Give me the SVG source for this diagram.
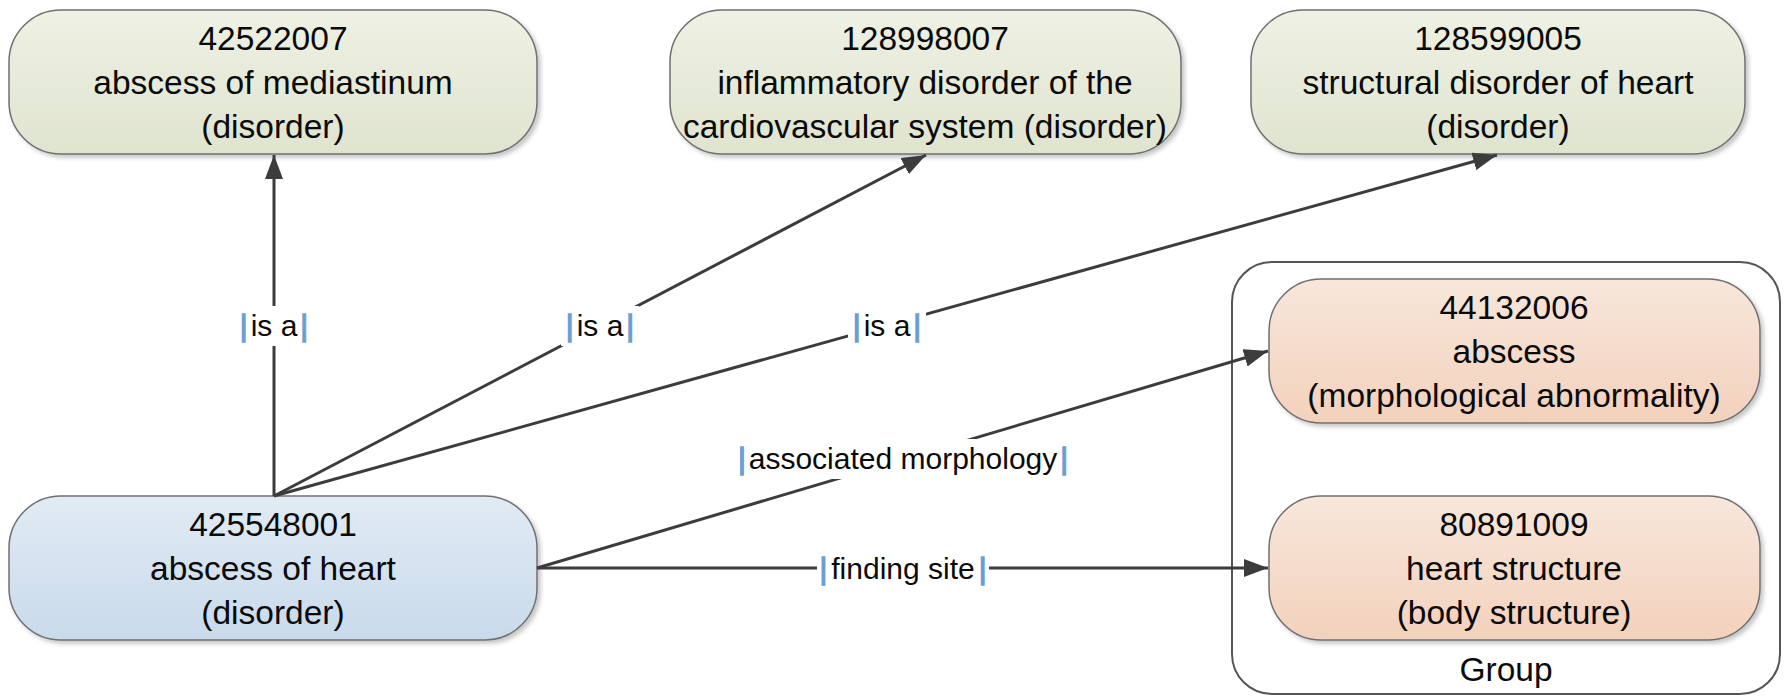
<svg xmlns="http://www.w3.org/2000/svg" width="1788" height="698" viewBox="0 0 1788 698">
<style>
  .node { stroke: #707070; stroke-width: 1.5; }
  .t { font-family: "Liberation Sans", Arial, sans-serif; font-size: 33.5px; fill: #0a0a0a; text-anchor: middle; }
  .lbl { font-family: "Liberation Sans", Arial, sans-serif; font-size: 30px; fill: #0a0a0a; text-anchor: middle; }
  .bar { fill: #6b9fd3; stroke: #6b9fd3; stroke-width: 1.4; }
  .conn { stroke: #3c3c3c; stroke-width: 3; fill: none; marker-end: url(#arrow); }
  .lblbg { fill: #ffffff; }
</style>
<defs>
  <linearGradient id="gGreen" x1="0" y1="0" x2="0" y2="1">
    <stop offset="0" stop-color="#eff1e4"/>
    <stop offset="1" stop-color="#dfe4cf"/>
  </linearGradient>
  <linearGradient id="gBlue" x1="0" y1="0" x2="0" y2="1">
    <stop offset="0" stop-color="#e1ebf4"/>
    <stop offset="1" stop-color="#c9daeb"/>
  </linearGradient>
  <linearGradient id="gOrange" x1="0" y1="0" x2="0" y2="1">
    <stop offset="0" stop-color="#f7e7db"/>
    <stop offset="1" stop-color="#f3d1bc"/>
  </linearGradient>
  <filter id="shadow" x="-5%" y="-5%" width="112%" height="120%">
    <feDropShadow dx="3" dy="3" stdDeviation="2" flood-color="#000" flood-opacity="0.22"/>
  </filter>
  <marker id="arrow" viewBox="0 0 24 18" refX="24" refY="9" markerWidth="24" markerHeight="18" markerUnits="userSpaceOnUse" orient="auto">
    <path d="M0,0 L24,9 L0,18 z" fill="#3c3c3c"/>
  </marker>
</defs>
<rect width="1788" height="698" fill="#ffffff"/>

<g id="group-box">
  <rect x="1232" y="262" width="548" height="432" rx="40" ry="40" fill="#ffffff" stroke="#555" stroke-width="2"/>
  <text class="t" x="1506" y="681">Group</text>
</g>

<g id="node-42522007">
  <rect class="node" x="9" y="10" width="528" height="144" rx="52" ry="52" fill="url(#gGreen)" filter="url(#shadow)"/>
  <text class="t" x="273" y="50">42522007</text>
  <text class="t" x="273" y="94">abscess of mediastinum</text>
  <text class="t" x="273" y="138">(disorder)</text>
</g>

<g id="node-128998007">
  <rect class="node" x="670" y="10" width="511" height="144" rx="52" ry="52" fill="url(#gGreen)" filter="url(#shadow)"/>
  <text class="t" x="925" y="50">128998007</text>
  <text class="t" x="925" y="94">inflammatory disorder of the</text>
  <text class="t" x="925" y="138">cardiovascular system (disorder)</text>
</g>

<g id="node-128599005">
  <rect class="node" x="1251" y="10" width="494" height="144" rx="52" ry="52" fill="url(#gGreen)" filter="url(#shadow)"/>
  <text class="t" x="1498" y="50">128599005</text>
  <text class="t" x="1498" y="94">structural disorder of heart</text>
  <text class="t" x="1498" y="138">(disorder)</text>
</g>

<g id="node-425548001">
  <rect class="node" x="9" y="496" width="528" height="144" rx="52" ry="52" fill="url(#gBlue)" filter="url(#shadow)"/>
  <text class="t" x="273" y="536">425548001</text>
  <text class="t" x="273" y="580">abscess of heart</text>
  <text class="t" x="273" y="624">(disorder)</text>
</g>

<g id="node-44132006">
  <rect class="node" x="1269" y="279" width="491" height="144" rx="52" ry="52" fill="url(#gOrange)" filter="url(#shadow)"/>
  <text class="t" x="1514" y="319">44132006</text>
  <text class="t" x="1514" y="363">abscess</text>
  <text class="t" x="1514" y="407">(morphological abnormality)</text>
</g>

<g id="node-80891009">
  <rect class="node" x="1269" y="496" width="491" height="144" rx="52" ry="52" fill="url(#gOrange)" filter="url(#shadow)"/>
  <text class="t" x="1514" y="536">80891009</text>
  <text class="t" x="1514" y="580">heart structure</text>
  <text class="t" x="1514" y="624">(body structure)</text>
</g>

<g id="connectors">
  <path class="conn" d="M274,496 L274,155"/>
  <path class="conn" d="M274,496 L926,155"/>
  <path class="conn" d="M274,496 L1497,155"/>
  <path class="conn" d="M537,568 L1268,351"/>
  <path class="conn" d="M537,568 L1268,568"/>

  <rect class="lblbg" x="235" y="306" width="78" height="40"/>
  <text class="lbl" x="274" y="336"><tspan class="bar">|</tspan><tspan dx="3">is a</tspan><tspan class="bar" dx="3">|</tspan></text>

  <rect class="lblbg" x="561" y="306" width="78" height="40"/>
  <text class="lbl" x="600" y="336"><tspan class="bar">|</tspan><tspan dx="3">is a</tspan><tspan class="bar" dx="3">|</tspan></text>

  <rect class="lblbg" x="848" y="306" width="78" height="40"/>
  <text class="lbl" x="887" y="336"><tspan class="bar">|</tspan><tspan dx="3">is a</tspan><tspan class="bar" dx="3">|</tspan></text>

  <rect class="lblbg" x="734" y="439" width="338" height="40"/>
  <text class="lbl" x="903" y="469"><tspan class="bar">|</tspan><tspan dx="3">associated morphology</tspan><tspan class="bar" dx="3">|</tspan></text>

  <rect class="lblbg" x="817" y="548" width="172" height="40"/>
  <text class="lbl" x="903" y="579"><tspan class="bar">|</tspan><tspan dx="4">finding site</tspan><tspan class="bar" dx="4">|</tspan></text>
</g>
</svg>
